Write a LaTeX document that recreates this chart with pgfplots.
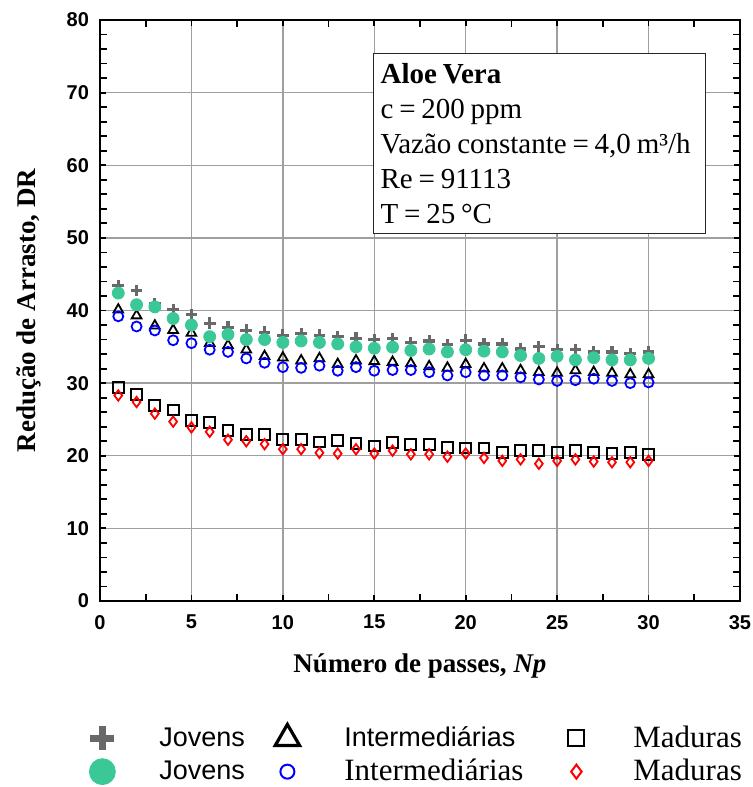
\documentclass[border=0pt]{standalone}
\usepackage{fontspec}
\setmainfont{Liberation Serif}
\setsansfont{Liberation Sans}
\usepackage{pgfplots}
\pgfplotsset{compat=1.18}
\definecolor{jgreen}{RGB}{58,201,150}
\definecolor{jgray}{RGB}{105,105,105}
\newcommand\lsans{\sffamily\fontsize{13.5}{16}\selectfont}
\newcommand\lserif{\rmfamily\fontsize{15.5}{18}\selectfont}

\begin{document}
\begin{tikzpicture}
\path[use as bounding box] (-50pt,-93pt) rectangle (326.5pt,300.5pt);
\begin{axis}[
  name=ax, at={(0,0)}, anchor=south west,
  scale only axis, width=320pt, height=290.5pt,
  xmin=0, xmax=35, ymin=0, ymax=80,
  xtick={0,5,...,35}, ytick={0,10,...,80},
  minor x tick num=1, minor y tick num=4,
  grid=major, major grid style={gray!75, line width=0.7pt},
  axis line style={line width=1.4pt},
  tick style={black, line width=0.9pt},
  major tick length=3pt, minor tick length=3.5pt,
  tick label style={font=\sffamily\bfseries\fontsize{10}{12}\selectfont},
  /pgf/number format/assume math mode=true,
  yticklabel style={xshift=-2pt},
  xticklabel style={yshift=-3.5pt},
  xlabel={Número de passes, \textit{Np}},
  ylabel={Redução de Arrasto, DR},
  label style={font=\rmfamily\bfseries\fontsize{13.5}{16}\selectfont},
  xlabel style={at={(axis description cs:0.5,-0.112)}, anchor=center},
  ylabel style={at={(axis description cs:-0.111,0.5)}, anchor=center},
  legend columns=3,
  legend cell align=left,
  legend image code/.code={
    \path[draw=none, fill=none] (-14pt,-4pt) rectangle (14pt,4pt);
    \draw[mark repeat=2,mark phase=2,#1] plot coordinates {(-1pt,0pt) (0pt,0pt) (1pt,0pt)};},
  legend style={at={(axis description cs:0,0)}, anchor=north west,
    xshift=-13pt, yshift=-61.5pt, draw=none, fill=none, inner sep=0pt,
    nodes={inner sep=0pt}, row sep=4pt,
    /tikz/every odd column/.append style={column sep=14.5pt}},
]
% Jovens (cruz)
\addplot[only marks, mark=+, mark size=2.9pt, jgray, mark options={line width=1.6pt},
  legend image post style={mark size=6pt, mark options={line width=3.5pt}}]
  table {
x y
1 43.4
2 42.75
3 40.9
4 40.1
5 39.45
6 38.25
7 37.7
8 37.3
9 37.0
10 36.6
11 36.8
12 36.6
13 36.4
14 36.2
15 36.0
16 36.1
17 35.6
18 35.8
19 35.3
20 35.9
21 35.4
22 35.4
23 34.7
24 35.0
25 34.6
26 34.6
27 34.3
28 34.3
29 34.1
30 34.3
};
\addlegendentry{\makebox[50pt][l]{\lsans Jovens}}
% Intermediarias (triangulo)
\addplot[only marks, mark=triangle, mark size=2.8pt, black, mark options={line width=0.9pt},
  legend image post style={mark size=7pt, mark options={line width=1.6pt}}]
  table {
x y
1 40.1
2 39.3
3 37.9
4 37.3
5 36.9
6 35.5
7 35.2
8 34.6
9 33.7
10 33.5
11 33.1
12 33.4
13 32.6
14 33.1
15 33.0
16 32.9
17 32.7
18 32.3
19 32.1
20 32.6
21 32.0
22 32.0
23 31.75
24 31.5
25 31.4
26 31.75
27 31.5
28 31.4
29 31.2
30 31.2
};
\addlegendentry{\makebox[102pt][l]{\lsans Intermediárias}}
% Maduras (quadrado)
\addplot[only marks, mark=square, mark size=2.7pt, black, mark options={line width=1pt},
  legend image post style={mark size=4pt, mark options={line width=1pt}}]
  table {
x y
1 29.45
2 28.45
3 26.9
4 26.3
5 24.9
6 24.6
7 23.5
8 22.9
9 22.9
10 22.2
11 22.2
12 21.9
13 22.1
14 21.7
15 21.35
16 21.8
17 21.5
18 21.6
19 21.1
20 21.06
21 21.06
22 20.45
23 20.7
24 20.7
25 20.45
26 20.7
27 20.4
28 20.3
29 20.45
30 20.2
};
\addlegendentry{\lserif Maduras}
% Jovens (circulo cheio)
\addplot[only marks, mark=*, mark size=3pt, jgreen, mark options={draw=jgreen, fill=jgreen},
  legend image post style={mark size=6.5pt}]
  table {
x y
1 42.4
2 40.8
3 40.5
4 38.9
5 38.0
6 36.4
7 36.7
8 36.0
9 36.0
10 35.6
11 35.8
12 35.6
13 35.4
14 35.0
15 34.8
16 34.95
17 34.5
18 34.7
19 34.3
20 34.6
21 34.4
22 34.3
23 33.8
24 33.4
25 33.7
26 33.2
27 33.5
28 33.2
29 33.2
30 33.4
};
\addlegendentry{\makebox[50pt][l]{\lsans Jovens}}
% Intermediarias (circulo vazio)
\addplot[only marks, mark=o, mark size=2.5pt, blue, mark options={line width=0.9pt},
  legend image post style={mark size=3.5pt, mark options={line width=1pt}}]
  table {
x y
1 39.2
2 37.8
3 37.25
4 35.9
5 35.5
6 34.6
7 34.3
8 33.4
9 32.8
10 32.2
11 32.1
12 32.4
13 31.7
14 32.2
15 31.7
16 31.8
17 31.8
18 31.5
19 31.06
20 31.5
21 31.06
22 31.06
23 30.8
24 30.5
25 30.3
26 30.4
27 30.6
28 30.3
29 30.0
30 30.1
};
\addlegendentry{\makebox[102pt][l]{\lserif Intermediárias}}
% Maduras (losango)
\addplot[only marks, mark=diamond, mark size=2.6pt, red, mark options={line width=0.9pt},
  legend image post style={mark size=3.5pt, mark options={line width=1pt}}]
  table {
x y
1 28.3
2 27.4
3 25.8
4 24.7
5 23.9
6 23.3
7 22.2
8 22.0
9 21.6
10 20.9
11 20.9
12 20.4
13 20.3
14 20.9
15 20.3
16 20.7
17 20.2
18 20.2
19 19.86
20 20.3
21 19.7
22 19.3
23 19.5
24 18.9
25 19.3
26 19.5
27 19.2
28 19.1
29 19.1
30 19.3
};
\addlegendentry{\lserif Maduras}
\node[draw=black!85, line width=0.6pt, fill=white, anchor=north west,
  inner xsep=3.5pt, inner ysep=5pt, text width=159pt, align=left,
  font=\rmfamily\fontsize{14.5}{17.5}\selectfont]
  at (axis cs:14.93,75.5)
  {\spaceskip=0.2em plus 0.05em minus 0.05em
   \textbf{Aloe Vera}\\ c = 200 ppm\\ Vazão constante = 4,0 m³/h\\ Re = 91113\\ T = 25 °C};
\end{axis}
\end{tikzpicture}
\end{document}
